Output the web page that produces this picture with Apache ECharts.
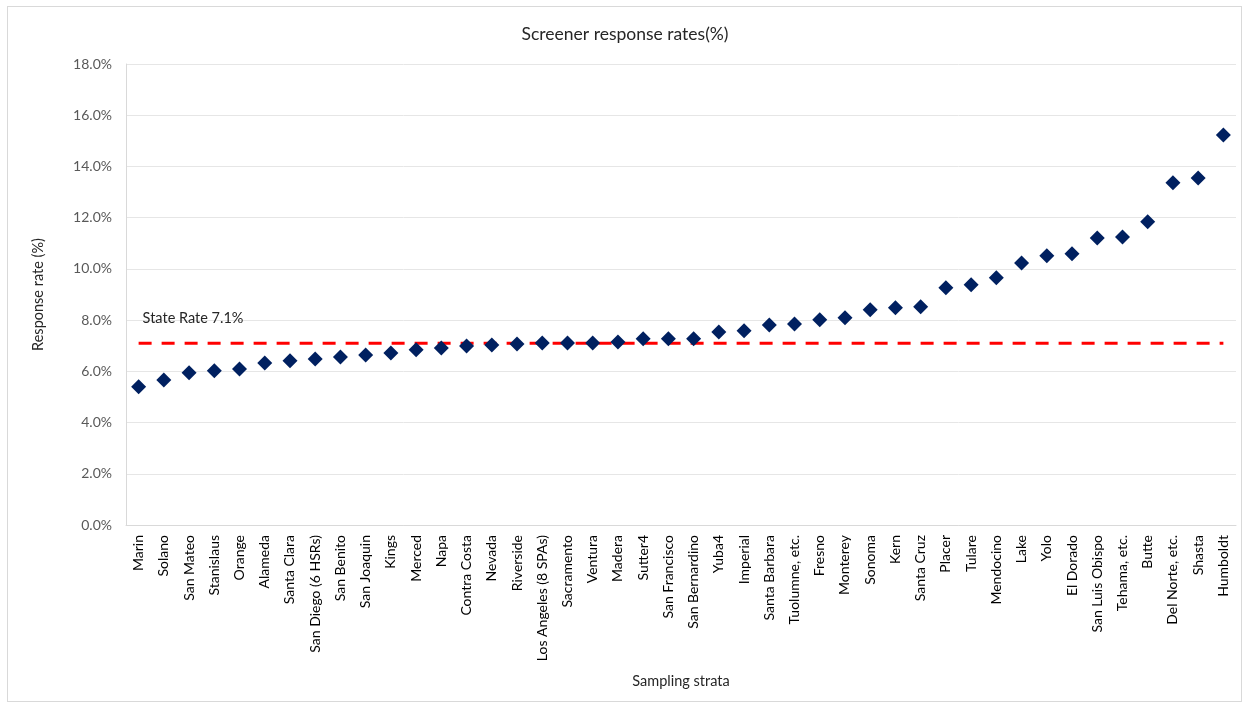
<!DOCTYPE html>
<html>
<head>
<meta charset="utf-8">
<script src="https://cdn.jsdelivr.net/npm/echarts@6/dist/echarts.min.js"></script>
<style>
  html, body { margin: 0; padding: 0; background: #fff; }
  #frame { position: absolute; left: 7px; top: 6px; width: 1235px; height: 696px; border: 1px solid #d9d9d9; box-sizing: border-box; }
  #chart { position: absolute; left: 0; top: 0; width: 1250px; height: 706px; }
</style>
</head>
<body>
<div id="frame"></div>
<div id="chart"></div>
<script>
// Sampling strata, sorted by screener response rate
const strata = [
  'Marin', 'Solano', 'San Mateo', 'Stanislaus', 'Orange', 'Alameda', 'Santa Clara',
  'San Diego (6 HSRs)', 'San Benito', 'San Joaquin', 'Kings', 'Merced', 'Napa',
  'Contra Costa', 'Nevada', 'Riverside', 'Los Angeles (8 SPAs)', 'Sacramento', 'Ventura',
  'Madera', 'Sutter4', 'San Francisco', 'San Bernardino', 'Yuba4', 'Imperial',
  'Santa Barbara', 'Tuolumne, etc.', 'Fresno', 'Monterey', 'Sonoma', 'Kern', 'Santa Cruz',
  'Placer', 'Tulare', 'Mendocino', 'Lake', 'Yolo', 'El Dorado', 'San Luis Obispo',
  'Tehama, etc.', 'Butte', 'Del Norte, etc.', 'Shasta', 'Humboldt'
];

// Screener response rate per stratum (%)
const responseRates = [
  5.40, 5.66, 5.94, 6.02, 6.09, 6.33, 6.41, 6.48, 6.56, 6.64, 6.72, 6.84, 6.91,
  6.99, 7.03, 7.07, 7.11, 7.11, 7.11, 7.15, 7.27, 7.27, 7.27, 7.54, 7.58,
  7.81, 7.85, 8.01, 8.09, 8.40, 8.48, 8.52, 9.26, 9.38, 9.65, 10.23, 10.51,
  10.59, 11.21, 11.25, 11.84, 13.36, 13.55, 15.23
];

// Statewide reference rate (%)
const stateRate = 7.1;
const stateLine = strata.map(() => stateRate);

const FONT = 'Lato, "Liberation Sans", sans-serif';

const chart = echarts.init(document.getElementById('chart'), null, { renderer: 'canvas' });
chart.setOption({
  animation: false,
  backgroundColor: 'transparent',
  title: {
    text: 'Screener response rates(%)',
    left: 'center',
    top: 20,
    textStyle: { fontFamily: FONT, fontSize: 17.5, fontWeight: 'normal', color: '#262626' }
  },
  grid: { left: 126, right: 14, top: 64, bottom: 181, containLabel: false },
  xAxis: {
    type: 'category',
    data: strata,
    name: 'Sampling strata',
    nameLocation: 'middle',
    nameGap: 149,
    nameTextStyle: { fontFamily: FONT, fontSize: 14.5, color: '#262626' },
    axisLine: { lineStyle: { color: '#d9d9d9', width: 1 } },
    axisTick: { show: false },
    axisLabel: {
      interval: 0,
      rotate: 90,
      margin: 10,
      fontFamily: FONT,
      fontSize: 14,
      color: '#000'
    }
  },
  yAxis: {
    type: 'value',
    min: 0,
    max: 18,
    interval: 2,
    name: 'Response rate (%)',
    nameLocation: 'middle',
    nameGap: 80,
    nameRotate: 90,
    nameTextStyle: { fontFamily: FONT, fontSize: 14.5, color: '#262626' },
    axisLine: { show: true, lineStyle: { color: '#d9d9d9', width: 1 } },
    axisTick: { show: false },
    splitLine: { lineStyle: { color: '#e6e6e6', width: 1 } },
    axisLabel: {
      margin: 14,
      fontFamily: FONT,
      fontSize: 14,
      color: '#595959',
      formatter: v => v.toFixed(1) + '%'
    }
  },
  series: [
    {
      name: 'State Rate',
      type: 'line',
      data: stateLine,
      symbol: 'none',
      lineStyle: { color: '#ff0000', width: 3, type: [13, 10] },
      z: 2,
      markPoint: {
        symbol: 'circle',
        symbolSize: 0,
        silent: true,
        data: [{ coord: [0, stateRate], value: stateRate }],
        label: {
          show: true,
          position: 'insideLeft',
          offset: [-1, -25],
          formatter: 'State Rate ' + stateRate.toFixed(1) + '%',
          fontFamily: FONT,
          fontSize: 14.5,
          color: '#262626'
        }
      }
    },
    {
      name: 'Response rate',
      type: 'scatter',
      data: responseRates,
      symbol: 'diamond',
      symbolSize: [15, 15],
      itemStyle: { color: '#002060', opacity: 1 },
      z: 3
    }
  ]
});
</script>
</body>
</html>
